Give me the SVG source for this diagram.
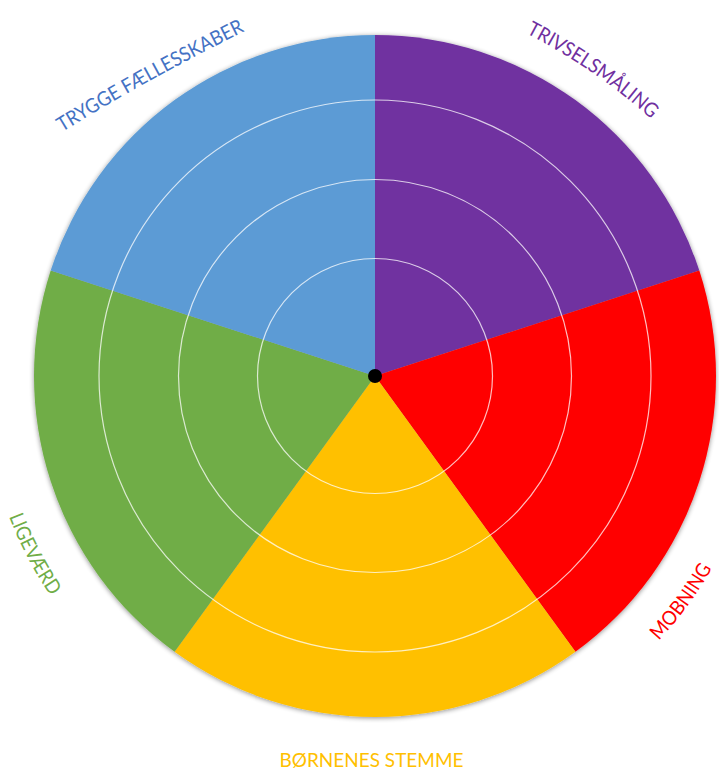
<svg xmlns="http://www.w3.org/2000/svg" xmlns:xlink="http://www.w3.org/1999/xlink" width="719" height="769" viewBox="0 0 719 769">
<style>
  .lbl { font-family: Lato, "Open Sans", "Liberation Sans", sans-serif; font-size: 20px; }
  .ring { fill: none; stroke: #ffffff; stroke-opacity: 0.75; stroke-width: 1.2; }
</style>
<defs>
  <filter id="shadow" x="-10%" y="-10%" width="120%" height="120%">
    <feGaussianBlur in="SourceAlpha" stdDeviation="2.5"/>
    <feOffset dx="0" dy="1" result="b"/>
    <feComponentTransfer><feFuncA type="linear" slope="0.45"/></feComponentTransfer>
    <feMerge><feMergeNode/><feMergeNode in="SourceGraphic"/></feMerge>
  </filter>
  <path id="p-trygge" d="M62,132 Q150,78 245,31"/>
  <path id="p-trivsel" d="M526,33 Q600,72 651,119"/>
  <path id="p-mobning" d="M658.8,640.6 A388,388 0 0 0 712.7,567.1"/>
  <path id="p-ligevaerd" d="M9.0,516.5 A392,392 0 0 0 49.5,594.3"/>
</defs>

<g id="pie" filter="url(#shadow)">
  <g id="sector-trivselsmaaling"><path d="M375,376 L375,35 A341,341 0 0 1 699.31,270.62 Z" fill="#7030A0"/></g>
  <g id="sector-mobning"><path d="M375,376 L699.31,270.62 A341,341 0 0 1 575.44,651.87 Z" fill="#FF0000"/></g>
  <g id="sector-boernenes-stemme"><path d="M375,376 L575.44,651.87 A341,341 0 0 1 174.56,651.87 Z" fill="#FFC000"/></g>
  <g id="sector-ligevaerd"><path d="M375,376 L174.56,651.87 A341,341 0 0 1 50.69,270.62 Z" fill="#70AD47"/></g>
  <g id="sector-trygge"><path d="M375,376 L50.69,270.62 A341,341 0 0 1 375,35 Z" fill="#5B9BD5"/></g>
</g>

<g id="rings">
  <circle class="ring" cx="375" cy="376" r="117.5"/>
  <circle class="ring" cx="375" cy="376" r="196.5"/>
  <circle class="ring" cx="375" cy="376" r="276"/>
</g>

<g id="center-dot"><circle cx="375" cy="376" r="7" fill="#000000"/></g>

<g id="labels">
  <g id="label-trygge"><text class="lbl" fill="#4472C4"><textPath xlink:href="#p-trygge" href="#p-trygge" textLength="209" lengthAdjust="spacingAndGlyphs">TRYGGE FÆLLESSKABER</textPath></text></g>
  <g id="label-trivsel"><text class="lbl" fill="#7030A0"><textPath xlink:href="#p-trivsel" href="#p-trivsel" textLength="152" lengthAdjust="spacingAndGlyphs">TRIVSELSMÅLING</textPath></text></g>
  <g id="label-mobning"><text class="lbl" fill="#FF0000"><textPath xlink:href="#p-mobning" href="#p-mobning" textLength="90" lengthAdjust="spacingAndGlyphs">MOBNING</textPath></text></g>
  <g id="label-boernenes"><text class="lbl" fill="#FFC000" x="371.5" y="766.5" text-anchor="middle" textLength="184" lengthAdjust="spacingAndGlyphs">BØRNENES STEMME</text></g>
  <g id="label-ligevaerd"><text class="lbl" fill="#70AD47"><textPath xlink:href="#p-ligevaerd" href="#p-ligevaerd" textLength="90" lengthAdjust="spacingAndGlyphs">LIGEVÆRD</textPath></text></g>
</g>
</svg>
